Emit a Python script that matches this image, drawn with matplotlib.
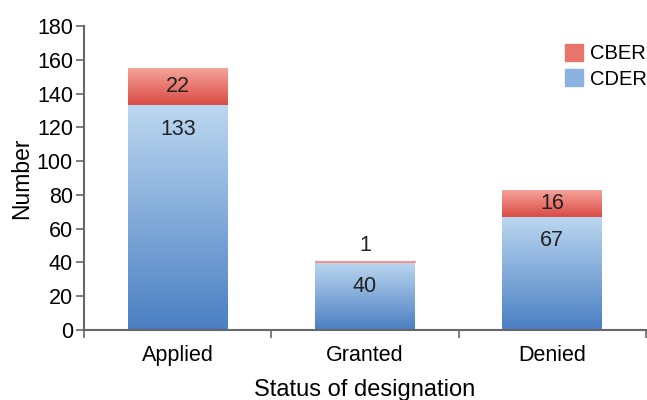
import numpy as np
import matplotlib.pyplot as plt
from matplotlib.colors import LinearSegmentedColormap
from matplotlib.patches import Patch

plt.rcParams['font.family'] = ['Liberation Sans', 'DejaVu Sans']

# Données : désignations par statut et par centre
statuts = ['Applied', 'Granted', 'Denied']
cder = [133, 40, 67]
cber = [22, 1, 16]

# Dégradés (clair en haut, foncé en bas)
bleu = LinearSegmentedColormap.from_list('bleu', ['#4a7fc3', '#bcd7f0'])
rouge = LinearSegmentedColormap.from_list('rouge', ['#d94b45', '#f6a69c'])

fig, ax = plt.subplots(figsize=(6.47, 4.0), dpi=100)
fig.subplots_adjust(left=0.13, right=0.998, top=0.935, bottom=0.175)

largeur = 0.53
x = np.arange(len(statuts))
grad = np.linspace(0, 1, 256).reshape(-1, 1)


def barre_degrade(x0, bas, haut, cmap):
    # rectangle invisible qui sert de masque au dégradé
    bar = ax.bar(x0, haut - bas, largeur, bottom=bas, color='none', lw=0)[0]
    im = ax.imshow(grad, cmap=cmap, origin='lower', aspect='auto',
                   extent=(x0 - largeur / 2, x0 + largeur / 2, bas, haut),
                   zorder=2)
    im.set_clip_path(bar)


for i in range(len(statuts)):
    barre_degrade(x[i], 0, cder[i], bleu)
    if cber[i] >= 5:
        barre_degrade(x[i], cder[i], cder[i] + cber[i], rouge)
    else:
        # segment trop fin pour un dégradé : couleur claire unie
        ax.bar(x[i], cber[i], largeur, bottom=cder[i], color='#f2978e',
               edgecolor='#f2978e', lw=0.8, zorder=3)

# Étiquettes de valeurs
taille = 15.5
for i in range(len(statuts)):
    ax.text(x[i], cder[i] - 14, str(cder[i]), ha='center', va='center',
            fontsize=taille, color='#222222')
    total = cder[i] + cber[i]
    if cber[i] >= 5:
        ax.text(x[i], cder[i] + cber[i] / 2, str(cber[i]), ha='center',
                va='center', fontsize=taille, color='#222222')
    else:
        ax.text(x[i], total + 9, str(cber[i]), ha='center', va='center',
                fontsize=taille, color='#222222')

ax.set_xlim(-0.5, 2.5)
ax.set_ylim(0, 180)
ax.set_yticks(range(0, 181, 20))
ax.set_xticks(x)
ax.set_xticklabels(statuts)
ax.set_xticks([-0.5, 0.5, 1.5, 2.5], minor=True)
ax.tick_params(axis='x', which='major', length=0, labelsize=15.5, pad=11)
ax.tick_params(axis='x', which='minor', length=6, width=1.2, color='#666666')
ax.tick_params(axis='y', length=6, width=1.2, color='#666666', labelsize=15.5,
               pad=2)

for cote in ['top', 'right']:
    ax.spines[cote].set_visible(False)
for cote in ['left', 'bottom']:
    ax.spines[cote].set_color('#666666')
    ax.spines[cote].set_linewidth(1.5)

ax.set_ylabel('Number', fontsize=16.5, labelpad=3)
ax.set_xlabel('Status of designation', fontsize=17, labelpad=9)

poignees = [Patch(color='#e8756c', label='CBER'),
            Patch(color='#8ab3e2', label='CDER')]
ax.legend(handles=poignees, loc='upper right', frameon=False, fontsize=14.5,
          handlelength=0.9, handleheight=0.9, handletextpad=0.35,
          labelspacing=0.3, bbox_to_anchor=(1.035, 1.0))

plt.savefig('out.png', dpi=100)
